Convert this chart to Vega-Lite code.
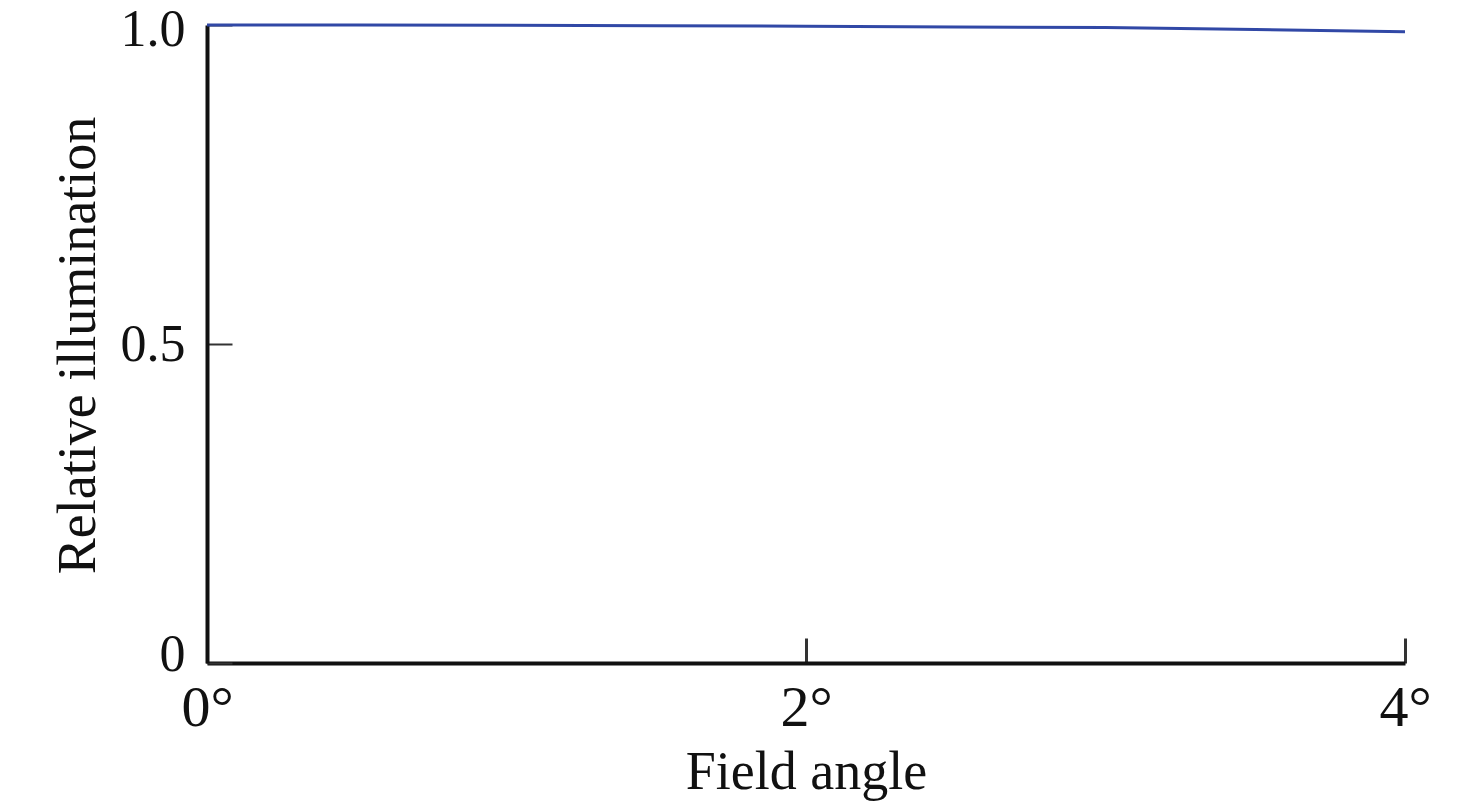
{
  "$schema": "https://vega.github.io/schema/vega-lite/v6.json",
  "autosize": "none",
  "width": 1198,
  "height": 638,
  "padding": {"left": 207, "top": 25, "right": 71, "bottom": 145},
  "background": "white",
  "config": {"view": {"stroke": null}},
  "data": {"values": [
    {"angle": 0, "ri": 1.0},
    {"angle": 0.5, "ri": 1.0},
    {"angle": 1.0, "ri": 0.9995},
    {"angle": 1.5, "ri": 0.999},
    {"angle": 2.0, "ri": 0.998},
    {"angle": 2.5, "ri": 0.997},
    {"angle": 3.0, "ri": 0.996},
    {"angle": 3.5, "ri": 0.993},
    {"angle": 4.0, "ri": 0.9895}
  ]},
  "mark": {"type": "line", "color": "#3148a6", "strokeWidth": 3},
  "encoding": {
    "x": {
      "field": "angle", "type": "quantitative",
      "scale": {"domain": [0, 4], "nice": false, "zero": false},
      "axis": {
        "title": "Field angle",
        "values": [0, 2, 4],
        "labelExpr": "datum.value + '°'",
        "labelFlush": false,
        "grid": false,
        "domainColor": "#111111", "domainWidth": 4,
        "tickColor": "#333333", "tickWidth": 3, "tickSize": -25,
        "labelPadding": 41,
        "labelFont": "Liberation Serif", "labelFontSize": 58, "labelColor": "#111111",
        "labelBaseline": "top",
        "titleFont": "Liberation Serif", "titleFontSize": 54, "titleFontWeight": "normal", "titleColor": "#111111",
        "titleBaseline": "alphabetic", "titleY": 125, "titleX": 599
      }
    },
    "y": {
      "field": "ri", "type": "quantitative",
      "scale": {"domain": [0, 1], "nice": false},
      "axis": {
        "title": "Relative illumination",
        "values": [0, 0.5, 1],
        "labelExpr": "datum.value == 0 ? '0' : format(datum.value, '.1f')",
        "labelFlush": false,
        "labelOffset": {"condition": [{"test": "datum.value == 1", "value": 4}, {"test": "datum.value == 0", "value": -9}], "value": 0},
        "grid": false,
        "domainColor": "#111111", "domainWidth": 4,
        "tickColor": "#333333", "tickWidth": 2, "tickSize": -25,
        "labelPadding": 47,
        "labelFont": "Liberation Serif", "labelFontSize": 52, "labelColor": "#111111",
        "labelBaseline": "middle",
        "titleFont": "Liberation Serif", "titleFontSize": 54, "titleFontWeight": "normal", "titleColor": "#111111",
        "titleAngle": -90, "titleBaseline": "alphabetic", "titleX": -113, "titleY": 320
      }
    }
  }
}
